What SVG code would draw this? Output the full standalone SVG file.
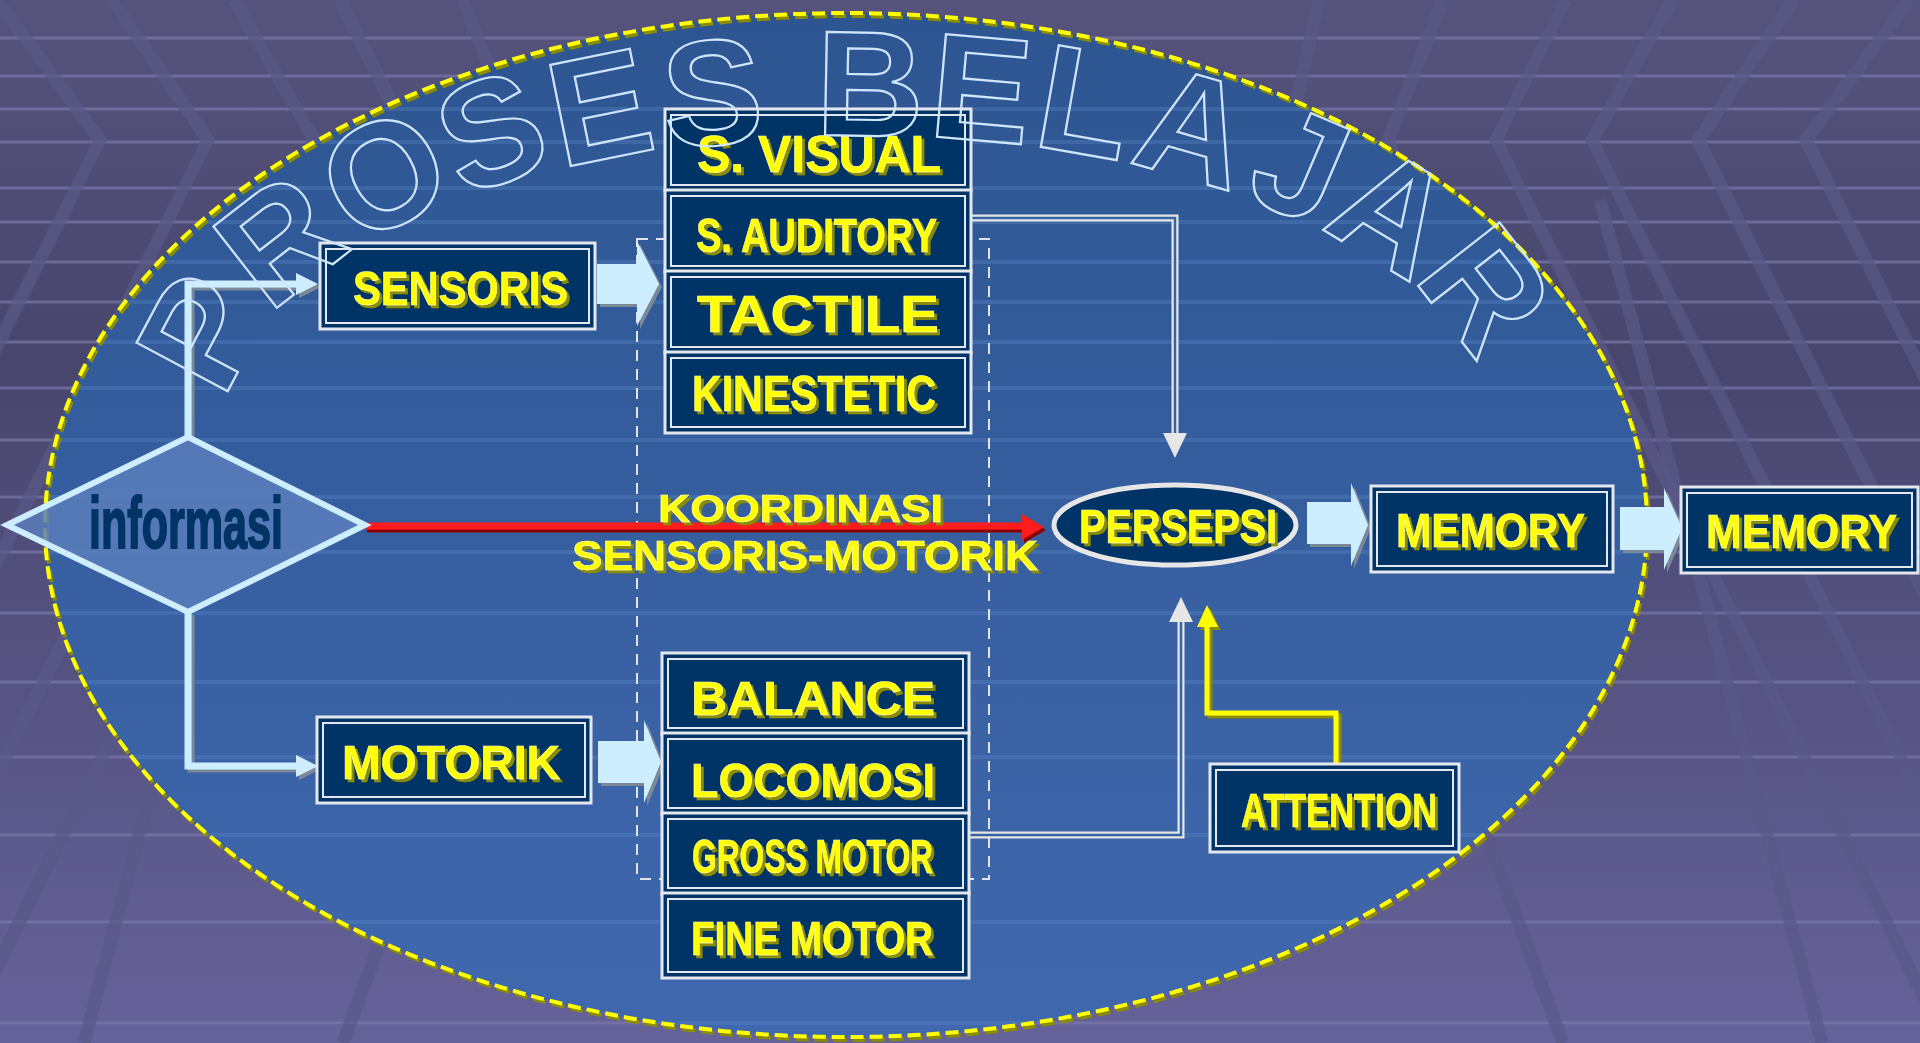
<svg xmlns="http://www.w3.org/2000/svg" width="1920" height="1043" viewBox="0 0 1920 1043">
<defs>
<style>
.lbl{font-family:"Liberation Sans",Arial,sans-serif;font-weight:bold;fill:#ffff00;stroke:#ffffb0;stroke-width:0.6;filter:url(#ts)}
.box{fill:#003366;stroke:#e4e8ee;stroke-width:3}
.inb{fill:none;stroke:#e4e8ee;stroke-width:2}
.hl{stroke:#7a78a8;stroke-width:3;opacity:0.7}
.dg{stroke:#5a5888;stroke-width:13;fill:none;opacity:0.7;stroke-linejoin:miter}
.blk{fill:#cceeff;filter:url(#gs)}
.lb{fill:none;stroke:#cceeff;stroke-width:7;filter:url(#gs)}
.dbo{fill:none;stroke:#e6e6e6;stroke-width:7}
.dbi{fill:none;stroke:#3464a4;stroke-width:2.5}
.eg{stroke:#5a86c6;stroke-width:4}
</style>
<linearGradient id="bg" x1="0" y1="0" x2="0" y2="1">
<stop offset="0" stop-color="#56537c"/>
<stop offset="0.35" stop-color="#48466d"/>
<stop offset="1" stop-color="#66629a"/>
</linearGradient>
<linearGradient id="el" x1="0" y1="0" x2="0" y2="1">
<stop offset="0" stop-color="#2c5591"/>
<stop offset="1" stop-color="#4068ae"/>
</linearGradient>
<filter id="ts" x="-5%" y="-10%" width="115%" height="130%"><feDropShadow dx="3" dy="3" stdDeviation="0" flood-color="#8c8c00"/></filter>
<filter id="gs" x="-10%" y="-10%" width="130%" height="130%"><feDropShadow dx="3" dy="3" stdDeviation="0.5" flood-color="#7a8898"/></filter>
<filter id="rs" x="-5%" y="-50%" width="110%" height="200%"><feDropShadow dx="2" dy="3" stdDeviation="0" flood-color="#8a0000"/></filter>
<filter id="ys" x="-20%" y="-10%" width="140%" height="130%"><feDropShadow dx="3" dy="3" stdDeviation="0" flood-color="#8c8c00"/></filter>
<clipPath id="ec"><ellipse cx="846" cy="525" rx="801" ry="512"/></clipPath>
</defs>

<g id="background">
<rect x="0" y="0" width="1920" height="1043" fill="url(#bg)"/>
<g id="grid">
<line class="hl" x1="0" y1="38" x2="1920" y2="38"/>
<line class="hl" x1="0" y1="76" x2="1920" y2="76"/>
<line class="hl" x1="0" y1="109" x2="1920" y2="109"/>
<line class="hl" x1="0" y1="142" x2="1920" y2="142"/>
<line class="hl" x1="0" y1="188" x2="1920" y2="188"/>
<line class="hl" x1="0" y1="222" x2="1920" y2="222"/>
<line class="hl" x1="0" y1="262" x2="1920" y2="262"/>
<line class="hl" x1="0" y1="302" x2="1920" y2="302"/>
<line class="hl" x1="0" y1="342" x2="1920" y2="342"/>
<line class="hl" x1="0" y1="388" x2="1920" y2="388"/>
<line class="hl" x1="0" y1="440" x2="1920" y2="440"/>
<line class="hl" x1="0" y1="497" x2="1920" y2="497"/>
<line class="hl" x1="0" y1="552" x2="1920" y2="552"/>
<line class="hl" x1="0" y1="613" x2="1920" y2="613"/>
<line class="hl" x1="0" y1="682" x2="1920" y2="682"/>
<line class="hl" x1="0" y1="757" x2="1920" y2="757"/>
<line class="hl" x1="0" y1="835" x2="1920" y2="835"/>
<line class="hl" x1="0" y1="922" x2="1920" y2="922"/>
<line class="hl" x1="0" y1="1023" x2="1920" y2="1023"/>
<g id="diag-right">
<polyline class="dg" points="1566,0 1496,140 1947,1043"/>
<polyline class="dg" points="1672,0 1592,140 2043,1043"/>
<polyline class="dg" points="1794,0 1698,140 2149,1043"/>
<polyline class="dg" points="1909,0 1806,140 2000,528"/>
<polyline class="dg" points="1443,0 1388,140 1480,400"/>
<polyline class="dg" points="1319,0 1290,130"/>
<polyline class="dg" points="1600,200 1822,1043"/>
<polyline class="dg" points="1400,600 1563,1043"/>
</g>
<g id="diag-left" transform="translate(1906,0) scale(-1,1)">
<polyline class="dg" points="1566,0 1496,140 1947,1043"/>
<polyline class="dg" points="1672,0 1592,140 2043,1043"/>
<polyline class="dg" points="1794,0 1698,140 2149,1043"/>
<polyline class="dg" points="1909,0 1806,140 2000,528"/>
<polyline class="dg" points="1443,0 1388,140 1480,400"/>
<polyline class="dg" points="1600,200 1822,1043"/>
<polyline class="dg" points="1400,600 1563,1043"/>
</g>
</g>
</g>

<g id="big-ellipse">
<ellipse cx="846" cy="525" rx="801" ry="512" fill="url(#el)"/>
<g clip-path="url(#ec)" opacity="0.35">
<line class="eg" x1="0" y1="109" x2="1920" y2="109"/>
<line class="eg" x1="0" y1="142" x2="1920" y2="142"/>
<line class="eg" x1="0" y1="188" x2="1920" y2="188"/>
<line class="eg" x1="0" y1="222" x2="1920" y2="222"/>
<line class="eg" x1="0" y1="262" x2="1920" y2="262"/>
<line class="eg" x1="0" y1="302" x2="1920" y2="302"/>
<line class="eg" x1="0" y1="342" x2="1920" y2="342"/>
<line class="eg" x1="0" y1="388" x2="1920" y2="388"/>
<line class="eg" x1="0" y1="440" x2="1920" y2="440"/>
<line class="eg" x1="0" y1="497" x2="1920" y2="497"/>
<line class="eg" x1="0" y1="552" x2="1920" y2="552"/>
<line class="eg" x1="0" y1="613" x2="1920" y2="613"/>
<line class="eg" x1="0" y1="682" x2="1920" y2="682"/>
<line class="eg" x1="0" y1="757" x2="1920" y2="757"/>
<line class="eg" x1="0" y1="835" x2="1920" y2="835"/>
<line class="eg" x1="0" y1="922" x2="1920" y2="922"/>
<line class="eg" x1="0" y1="1023" x2="1920" y2="1023"/>
</g>
<ellipse cx="848" cy="528" rx="801" ry="512" fill="none" stroke="#8c8c00" stroke-width="4" stroke-dasharray="13 6"/>
<ellipse cx="846" cy="525" rx="801" ry="512" fill="none" stroke="#ffff00" stroke-width="4" stroke-dasharray="13 6"/>
</g>

<g id="dashed-frame">
<rect x="637" y="239" width="352" height="640" fill="none" stroke="#e0e4ea" stroke-width="2" stroke-dasharray="11 8"/>
</g>

<g id="connectors">
<path class="lb" d="M188,437 V284 H298"/>
<polygon points="296,273 318,284 296,295" fill="#cceeff" filter="url(#gs)"/>
<path class="lb" d="M188,612 V766 H298"/>
<polygon points="296,755 318,766 296,777" fill="#cceeff" filter="url(#gs)"/>
<polygon class="blk" points="597,264 637,264 637,241 659,284 637,326 637,304 597,304"/>
<polygon class="blk" points="598,741 644,741 644,720 661,762 644,803 644,783 598,783"/>
<polygon class="blk" points="1307,502 1351,502 1351,483 1368,525 1351,566 1351,544 1307,544"/>
<polygon class="blk" points="1620,507 1664,507 1664,488 1682,528 1664,570 1664,550 1620,550"/>
<g filter="url(#rs)">
<line x1="365" y1="526" x2="1026" y2="526" stroke="#ff1a1a" stroke-width="7"/>
<polygon points="1022,514 1044,527 1022,540" fill="#ff1a1a"/>
</g>
<path class="dbo" d="M971,218 H1175 V436"/>
<path class="dbi" d="M971,218 H1175 V436"/>
<polygon points="1163,433 1187,433 1175,458" fill="#e6e6e6"/>
<path class="dbo" d="M969,835 H1181 V619"/>
<path class="dbi" d="M969,835 H1181 V619"/>
<polygon points="1169,622 1193,622 1181,597" fill="#e6e6e6"/>
<g filter="url(#ys)">
<path d="M1336,770 V713 H1207 V624" fill="none" stroke="#ffff00" stroke-width="5"/>
<polygon points="1197,627 1218,627 1207,605" fill="#ffff00"/>
</g>
</g>

<g id="node-informasi">
<polygon points="7,525 188,437 365,525 188,612" fill="#5a7cba" fill-opacity="0.85" stroke="#cceeff" stroke-width="6" stroke-linejoin="miter"/>
<text x="89" y="548" font-family="'Liberation Sans',Arial,sans-serif" font-weight="bold" font-size="72" fill="#003366" stroke="#003366" stroke-width="2" textLength="194" lengthAdjust="spacingAndGlyphs">informasi</text>
</g>

<g id="node-sensoris">
<rect class="box" x="320" y="243" width="275" height="86"/>
<rect class="inb" x="326" y="249" width="263" height="74"/>
<text class="lbl" x="353" y="305" font-size="49" textLength="215" lengthAdjust="spacingAndGlyphs">SENSORIS</text>
</g>

<g id="node-motorik">
<rect class="box" x="317" y="717" width="274" height="86"/>
<rect class="inb" x="323" y="723" width="262" height="74"/>
<text class="lbl" x="342" y="779" font-size="49" textLength="218" lengthAdjust="spacingAndGlyphs">MOTORIK</text>
</g>

<g id="node-s-visual">
<rect class="box" x="665" y="109" width="306" height="82"/>
<rect class="inb" x="671" y="115" width="294" height="70"/>
<text class="lbl" x="697" y="172" font-size="52" textLength="244" lengthAdjust="spacingAndGlyphs">S. VISUAL</text>
</g>
<g id="node-s-auditory">
<rect class="box" x="665" y="190" width="306" height="82"/>
<rect class="inb" x="671" y="196" width="294" height="70"/>
<text class="lbl" x="696" y="252" font-size="49" textLength="241" lengthAdjust="spacingAndGlyphs">S. AUDITORY</text>
</g>
<g id="node-tactile">
<rect class="box" x="665" y="271" width="306" height="82"/>
<rect class="inb" x="671" y="277" width="294" height="70"/>
<text class="lbl" x="697" y="332" font-size="52" textLength="242" lengthAdjust="spacingAndGlyphs">TACTILE</text>
</g>
<g id="node-kinestetic">
<rect class="box" x="665" y="352" width="306" height="81"/>
<rect class="inb" x="671" y="358" width="294" height="69"/>
<text class="lbl" x="692" y="411" font-size="50" textLength="244" lengthAdjust="spacingAndGlyphs">KINESTETIC</text>
</g>

<g id="node-balance">
<rect class="box" x="662" y="653" width="307" height="81"/>
<rect class="inb" x="668" y="659" width="295" height="69"/>
<text class="lbl" x="691" y="715" font-size="49" textLength="244" lengthAdjust="spacingAndGlyphs">BALANCE</text>
</g>
<g id="node-locomosi">
<rect class="box" x="662" y="733" width="307" height="81"/>
<rect class="inb" x="668" y="739" width="295" height="69"/>
<text class="lbl" x="691" y="797" font-size="49" textLength="244" lengthAdjust="spacingAndGlyphs">LOCOMOSI</text>
</g>
<g id="node-gross-motor">
<rect class="box" x="662" y="813" width="307" height="81"/>
<rect class="inb" x="668" y="819" width="295" height="69"/>
<text class="lbl" x="692" y="873" font-size="49" textLength="241" lengthAdjust="spacingAndGlyphs">GROSS MOTOR</text>
</g>
<g id="node-fine-motor">
<rect class="box" x="662" y="893" width="307" height="85"/>
<rect class="inb" x="668" y="899" width="295" height="73"/>
<text class="lbl" x="691" y="955" font-size="49" textLength="242" lengthAdjust="spacingAndGlyphs">FINE MOTOR</text>
</g>

<g id="label-koordinasi">
<text class="lbl" x="658" y="522" font-size="39" textLength="285" lengthAdjust="spacingAndGlyphs">KOORDINASI</text>
<text class="lbl" x="572" y="570" font-size="43" textLength="466" lengthAdjust="spacingAndGlyphs">SENSORIS-MOTORIK</text>
</g>

<g id="node-persepsi">
<ellipse cx="1175" cy="525" rx="121" ry="40" fill="#003366" stroke="#e6e6e6" stroke-width="5"/>
<text class="lbl" x="1079" y="543" font-size="49" textLength="198" lengthAdjust="spacingAndGlyphs">PERSEPSI</text>
</g>

<g id="node-memory-1">
<rect class="box" x="1371" y="486" width="242" height="86"/>
<rect class="inb" x="1377" y="492" width="230" height="74"/>
<text class="lbl" x="1396" y="547" font-size="48" textLength="189" lengthAdjust="spacingAndGlyphs">MEMORY</text>
</g>
<g id="node-memory-2">
<rect class="box" x="1681" y="487" width="237" height="86"/>
<rect class="inb" x="1687" y="493" width="225" height="74"/>
<text class="lbl" x="1706" y="548" font-size="48" textLength="191" lengthAdjust="spacingAndGlyphs">MEMORY</text>
</g>

<g id="node-attention">
<rect class="box" x="1210" y="764" width="249" height="88"/>
<rect class="inb" x="1216" y="770" width="237" height="76"/>
<text class="lbl" x="1241" y="827" font-size="49" textLength="196" lengthAdjust="spacingAndGlyphs">ATTENTION</text>
</g>

<g id="title">
<text font-family="'Liberation Sans',Arial,sans-serif" font-weight="bold" font-size="150" fill="none" stroke="#cfe6ff" stroke-width="2.2" x="223 269 358 463 561 666 766 815 927 1031 1128 1242 1320 1412" y="400 314 248 198 168 148 141 135 136 145 162 196 228 278" rotate="-62 -38 -29 -21 -11.5 -4 -2 1 5 10 16 23 31 52">PROSES BELAJAR</text>
</g>
</svg>
